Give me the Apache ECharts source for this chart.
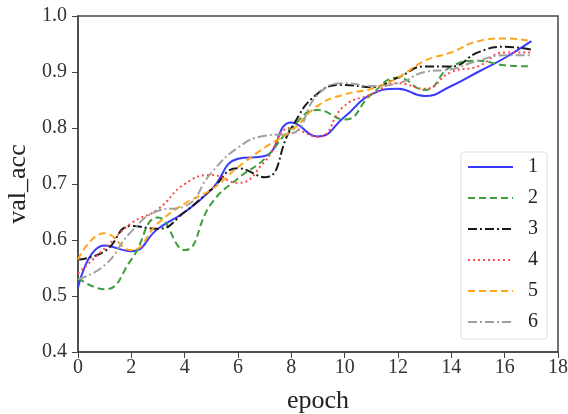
<!DOCTYPE html>
<html><head><meta charset="utf-8">
<script src="https://cdn.jsdelivr.net/npm/echarts@6/dist/echarts.min.js"></script>
<style>html,body{margin:0;padding:0;background:#fff}#c{width:568px;height:414px}</style>
</head><body><div id="c"></div>
<script>
const epochs = [0,1,2,3,4,5,6,7,8,9,10,11,12,13,14,15,16,17];
const s1 = [0.515,0.59,0.58,0.62,0.65,0.69,0.745,0.75,0.81,0.785,0.82,0.86,0.87,0.857,0.875,0.9,0.925,0.955];
const s2 = [0.532,0.512,0.565,0.64,0.582,0.665,0.71,0.745,0.8,0.832,0.815,0.86,0.89,0.868,0.91,0.92,0.912,0.91];
const s3 = [0.565,0.58,0.625,0.62,0.65,0.69,0.728,0.712,0.8,0.862,0.877,0.873,0.89,0.91,0.91,0.935,0.945,0.94];
const s4 = [0.54,0.585,0.63,0.655,0.7,0.716,0.702,0.74,0.8,0.784,0.84,0.86,0.88,0.87,0.9,0.91,0.935,0.935];
const s5 = [0.565,0.612,0.582,0.63,0.665,0.69,0.73,0.765,0.795,0.84,0.86,0.87,0.89,0.92,0.935,0.955,0.96,0.955];
const s6 = [0.53,0.555,0.615,0.652,0.66,0.72,0.765,0.786,0.79,0.86,0.88,0.875,0.88,0.9,0.905,0.92,0.93,0.93];
const names = ['1','2','3','4','5','6'];
const xTicks = [0,2,4,6,8,10,12,14,16,18];
const yTicks = [0.4,0.5,0.6,0.7,0.8,0.9,1.0];

const font = '"Liberation Serif", "DejaVu Serif", serif';
const all = [s1,s2,s3,s4,s5,s6];
const styles = [
  {color:'#3a3aff', type:'solid'},
  {color:'#3d9e3d', type:[7,4]},
  {color:'#1a1a1a', type:[9,3,2,3]},
  {color:'#ff4a4a', type:[2,3]},
  {color:'#ffa51a', type:[7,4]},
  {color:'#a0a0a0', type:[9,3,2,3]}
];
const series = all.map((arr,i)=>({
  name: names[i], type:'line', smooth:0.5, symbol:'none',
  data: epochs.map((e,j)=>[e,arr[j]]),
  lineStyle:{color:styles[i].color, type:styles[i].type, width:2},
  itemStyle:{color:styles[i].color}
}));
const chart = echarts.init(document.getElementById('c'));
chart.setOption({
  animation:false,
  grid:{left:78,right:10,top:16,bottom:62,containLabel:false,outerBoundsMode:'none',
    show:true,borderColor:'#444',borderWidth:1.5,backgroundColor:'transparent'},
  xAxis:{type:'value',min:xTicks[0],max:xTicks[xTicks.length-1],interval:2,
    name:'epoch',nameLocation:'middle',nameGap:36,
    nameTextStyle:{fontFamily:font,fontSize:26,color:'#222'},
    axisLine:{show:true,lineStyle:{color:'#444',width:1.5}},
    axisTick:{show:true,inside:false,length:6,lineStyle:{color:'#444'}},
    axisLabel:{fontFamily:font,fontSize:20,color:'#333',margin:6},
    splitLine:{show:false}},
  yAxis:{type:'value',min:yTicks[0],max:yTicks[yTicks.length-1],interval:0.1,
    name:'val_acc',nameLocation:'middle',nameGap:42,
    nameTextStyle:{fontFamily:font,fontSize:26,color:'#222'},
    axisLine:{show:true,lineStyle:{color:'#444',width:1.5}},
    axisTick:{show:true,inside:false,length:6,lineStyle:{color:'#444'}},
    axisLabel:{fontFamily:font,fontSize:20,color:'#333',margin:11,formatter:v=>v.toFixed(1)},
    splitLine:{show:false}},
  legend:{orient:'vertical',right:21,top:152,
    itemWidth:45,itemHeight:14,itemGap:11,
    padding:[5,9,7,6],
    itemStyle:{opacity:0},
    borderColor:'#ddd',borderWidth:1,borderRadius:3,backgroundColor:'#fff',
    textStyle:{fontFamily:font,fontSize:20,color:'#222',lineHeight:20,padding:[0,0,0,10]},
    data:names},
  series:series
});
</script></body></html>
